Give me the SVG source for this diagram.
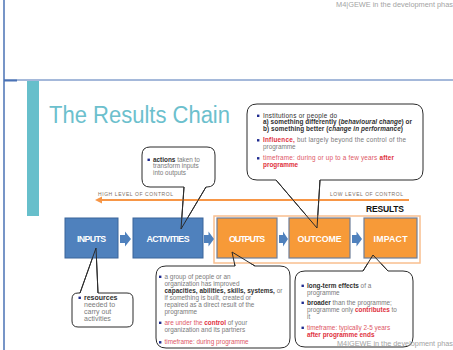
<svg xmlns="http://www.w3.org/2000/svg" width="453" height="350" viewBox="0 0 453 350">
<style>
.t{font-family:"Liberation Sans",Arial,sans-serif;font-size:6.4px}
.ti{font-size:7px}
.g{fill:#7a7a7a}.dk{fill:#2e2e2e}.r{fill:#e0313d}.pk{fill:#de5866}.b{font-weight:bold}.i{font-style:italic}
.bul{fill:#1f2b8f}
.call{fill:#fff;stroke:#2b2b2b;stroke-width:1}
.tail{fill:none;stroke:#2b2b2b;stroke-width:1}
.bb{fill:#4f81bd;stroke:#3b659a;stroke-width:1}
.ob{fill:#f79a38;stroke:#6f7f99;stroke-width:1.2}
.blk{fill:#4f81bd}
.lbl{font-family:"Liberation Sans",Arial,sans-serif;font-weight:bold;font-size:8.8px;fill:#fff;text-anchor:middle}
.hdr{font-family:"Liberation Sans",Arial,sans-serif;font-size:6.6px;fill:#a3a3a3}
.ctl{font-family:"Liberation Sans",Arial,sans-serif;font-size:5px;fill:#7d6f66}
</style>
<defs>
<rect id="bl" width="2.4" height="2.4" class="bul"/>
</defs>

<g id="page">
<line x1="4" y1="0" x2="4" y2="350" stroke="#4a72b5" stroke-width="1.5"/>
<line x1="4" y1="80" x2="453" y2="80" stroke="#4a72b5" stroke-width="1"/>
<line x1="4" y1="80.5" x2="17" y2="80.5" stroke="#4a72b5" stroke-width="2"/>
<rect x="27" y="81" width="12" height="135" fill="#67bfcb"/>
<text class="hdr" x="336" y="7" textLength="117" lengthAdjust="spacingAndGlyphs">M4|GEWE in the development phas</text>
<text x="49" y="123" font-family="'Liberation Sans',Arial,sans-serif" font-size="23" fill="#6cc0cd" textLength="181" lengthAdjust="spacingAndGlyphs">The Results Chain</text>
</g>

<!-- callout bodies -->
<g id="callout-actions">
<path class="call" d="M150,147 H207 Q215,147 215,155 V179 Q215,187 207,187 H206 L181,229 L184,187 H150 Q142,187 142,179 V155 Q142,147 150,147 Z"/>
<use href="#bl" x="147.5" y="158.6"/>
<text class="t g" x="153" y="161.5"><tspan class="b dk">actions</tspan> taken to</text>
<text class="t g" x="153" y="168">transform inputs</text>
<text class="t g" x="153" y="174.5">into outputs</text>
</g>

<g id="callout-outcome">
<path class="call" d="M257,104 H413 Q423,104 423,114 V170 Q423,180 413,180 H320 L317,228 L276,180 H257 Q247,180 247,170 V114 Q247,104 257,104 Z"/>
<use href="#bl" x="257" y="114.6"/>
<text class="t dk" x="263" y="117.5" textLength="74">Institutions or people do</text>
<text class="t dk b" x="263" y="124" textLength="149">a) something differently (<tspan class="i">behavioural change</tspan>) or</text>
<text class="t dk b" x="263" y="130.5" textLength="140">b) something better (<tspan class="i">change in performance</tspan>)</text>
<use href="#bl" x="257" y="139.1"/>
<text class="t g" x="263" y="142" textLength="143"><tspan class="r b">Influence,</tspan> but largely beyond the control of the</text>
<text class="t g" x="263" y="148.5">programme</text>
<use href="#bl" x="257" y="157.1"/>
<text class="t pk" x="263" y="160" textLength="131">timeframe: during or up to a few years <tspan class="b r">after</tspan></text>
<text class="t r b" x="263" y="166.5">programme</text>
</g>

<g id="callout-outputs">
<path class="call" d="M166,266 H235 L232,252 L255,266 H280 Q290,266 290,276 V338 Q290,348 280,348 H166 Q156,348 156,338 V276 Q156,266 166,266 Z"/>
<use href="#bl" x="159" y="275.6"/>
<text class="t g" x="164.5" y="278.5">a group of people or an</text>
<text class="t g" x="164.5" y="285.5">organization has improved</text>
<text class="t g" x="164.5" y="292.5" textLength="118"><tspan class="b dk">capacities, abilities, skills, systems,</tspan> or</text>
<text class="t g" x="164.5" y="299.5">if something is built, created or</text>
<text class="t g" x="164.5" y="306.5">repaired as a direct result of the</text>
<text class="t g" x="164.5" y="313.5">programme</text>
<use href="#bl" x="159" y="321.6"/>
<text class="t g" x="164.5" y="324.5"><tspan class="pk">are under the </tspan><tspan class="r b">control</tspan> of your</text>
<text class="t g" x="164.5" y="331.5">organization and its partners</text>
<use href="#bl" x="159" y="341.1"/>
<text class="t pk" x="164.5" y="344">timeframe: during programme</text>
</g>

<g id="callout-impact">
<path class="call" d="M305,271 H363 L373,255 L388,271 H403 Q413,271 413,281 V337 Q413,347 403,347 H305 Q295,347 295,337 V281 Q295,271 305,271 Z"/>
<use href="#bl" x="301.5" y="284.6"/>
<text class="t g" x="307" y="287.5"><tspan class="b dk">long-term effects</tspan> of a</text>
<text class="t g" x="307" y="294.5">programme</text>
<use href="#bl" x="301.5" y="301.6"/>
<text class="t g" x="307" y="304.5"><tspan class="b dk">broader</tspan> than the programme;</text>
<text class="t g" x="307" y="311.5">programme only <tspan class="b r">contributes</tspan> to</text>
<text class="t g" x="307" y="318.5">it</text>
<use href="#bl" x="301.5" y="326.6"/>
<text class="t pk" x="307" y="329.5">timeframe: typically 2-5 years</text>
<text class="t r b" x="307" y="336.5">after programme ends</text>
</g>

<g id="callout-inputs">
<path class="call" d="M78,293 H80 L96,248 L98,293 H127 Q133,293 133,299 V321 Q133,327 127,327 H78 Q72,327 72,321 V299 Q72,293 78,293 Z"/>
<use href="#bl" x="78.5" y="296.6"/>
<text class="t ti b dk" x="84" y="299.5">resources</text>
<text class="t ti g" x="84" y="306.5">needed to</text>
<text class="t ti g" x="84" y="313.5">carry out</text>
<text class="t ti g" x="84" y="320.5">activities</text>
</g>

<g id="control-scale">
<text class="ctl" x="98" y="195.5" textLength="75">HIGH LEVEL OF CONTROL</text>
<text class="ctl" x="330" y="195.5" textLength="73">LOW LEVEL OF CONTROL</text>
<text x="366" y="212" font-family="'Liberation Sans',Arial,sans-serif" font-weight="bold" font-size="8.5" fill="#111" textLength="38">RESULTS</text>
</g>

<g id="results-frame">
<rect x="214" y="216" width="206" height="47" fill="#fff" stroke="#f9bf8f" stroke-width="1.5"/>
</g>

<g id="inputs"><rect class="bb" x="65" y="218" width="53" height="40"/><text class="lbl" x="91.5" y="241.5" textLength="29">INPUTS</text></g>
<g id="activities"><rect class="bb" x="133" y="218" width="70" height="40"/><text class="lbl" x="168" y="241.5" textLength="43">ACTIVITIES</text></g>
<g id="outputs"><rect class="ob" x="217" y="218" width="60" height="40"/><text class="lbl" x="247" y="241.5" textLength="36">OUTPUTS</text></g>
<g id="outcome"><rect class="ob" x="289" y="218" width="61" height="40"/><text class="lbl" x="319.5" y="241.5" textLength="44">OUTCOME</text></g>
<g id="impact"><rect class="ob" x="364" y="218" width="53" height="40"/><text class="lbl" x="390.5" y="241.5" textLength="34">IMPACT</text></g>

<g id="connectors">
<line x1="101" y1="200" x2="409" y2="200" stroke="#f79646" stroke-width="2"/>
<path d="M95,200 L102,196.5 L102,203.5 Z" fill="#f79646"/>
<path class="blk" d="M120,235 H125 V231.5 L131,239 L125,246.5 V243 H120 Z"/>
<path class="blk" d="M204,235 H208.5 V231.5 L214,239 L208.5,246.5 V243 H204 Z"/>
<path class="blk" d="M279,235 H283 V231.5 L288,239 L283,246.5 V243 H279 Z"/>
<path class="blk" d="M352,235 H356.5 V231.5 L362,239 L356.5,246.5 V243 H352 Z"/>
<polyline class="tail" points="206,187 181,229 184,187"/>
<polyline class="tail" points="320,180 317,228 276,180"/>
<polyline class="tail" points="235,266 232,252 255,266"/>
<polyline class="tail" points="363,271 373,255 388,271"/>
<polyline class="tail" points="80,293 96,248 98,293"/>
</g>
<text class="hdr" x="337" y="346" textLength="116" lengthAdjust="spacingAndGlyphs">M4|GEWE in the development phas</text>
</svg>
